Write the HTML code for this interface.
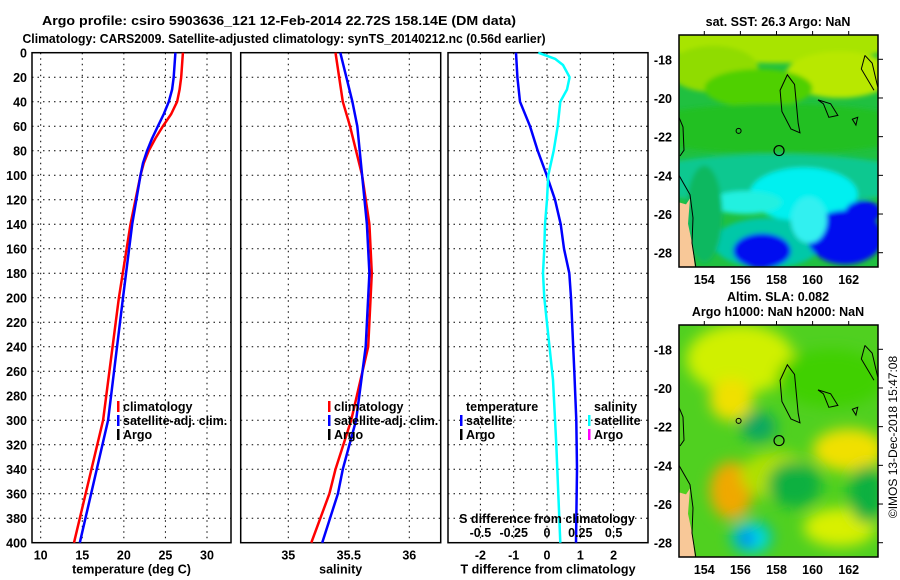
<!DOCTYPE html>
<html><head><meta charset="utf-8"><style>
html,body{margin:0;padding:0;background:#fff}
svg{display:block;font-family:"Liberation Sans",sans-serif}
.t{font-size:13px;font-weight:bold;fill:#000}
.tk{font-size:12.5px;font-weight:bold;fill:#000}
.grid{stroke:#000;stroke-width:1;stroke-dasharray:1.5,4}
</style></head><body>
<svg id="c" width="900" height="580" viewBox="0 0 900 580">
<defs>
<filter id="bl1" x="-20%" y="-20%" width="140%" height="140%"><feGaussianBlur stdDeviation="2.5"/></filter>
<filter id="bl2" x="-30%" y="-30%" width="160%" height="160%"><feGaussianBlur stdDeviation="7"/></filter>
<clipPath id="m1c"><rect x="679" y="35" width="199" height="232"/></clipPath>
<clipPath id="m2c"><rect x="679" y="325" width="199" height="232"/></clipPath>
</defs>
<text class="t" x="279" y="25" text-anchor="middle" textLength="474" lengthAdjust="spacingAndGlyphs">Argo profile: csiro 5903636_121 12-Feb-2014 22.72S 158.14E (DM data)</text>
<text class="t" x="284" y="43" text-anchor="middle" textLength="523" lengthAdjust="spacingAndGlyphs">Climatology: CARS2009. Satellite-adjusted climatology: synTS_20140212.nc (0.56d earlier)</text>
<g id="panels"></g>
<g id="maps"></g>
</svg>
<script>
// depth levels (m)
const depths=[0,20,30,40,50,60,70,80,90,100,140,200,300,400];
const tempClim=[27.1,26.9,26.7,26.4,25.7,24.7,23.8,23.0,22.4,22.0,20.8,19.4,17.5,14.0];
const tempSat=[26.2,26.0,25.8,25.4,24.8,24.1,23.4,22.8,22.3,22.0,21.0,19.9,18.1,14.7];
const salDepths=[0,40,60,100,140,180,240,300,340,360,400];
const salClim=[35.39,35.45,35.51,35.61,35.67,35.69,35.66,35.52,35.39,35.34,35.19];
const salSat=[35.43,35.53,35.57,35.61,35.65,35.67,35.64,35.56,35.45,35.41,35.28];
const tdDepths=[0,20,40,60,80,100,120,140,160,180,200,260,300,340,400];
const tDiff=[-0.93,-0.89,-0.81,-0.51,-0.28,-0.01,0.24,0.41,0.51,0.67,0.72,0.82,0.88,0.9,0.87];
const sdDepths=[0,5,10,20,30,40,60,80,100,120,140,160,180,200,267,320,400];
const sDiff=[-0.065,0.06,0.12,0.17,0.15,0.10,0.08,0.05,0.01,0,-0.015,-0.02,-0.03,-0.02,0.045,0.07,0.1];
const depthTicks=[0,20,40,60,80,100,120,140,160,180,200,220,240,260,280,300,320,340,360,380,400];
const tTicks=[10,15,20,25,30];
const sTicks=[35,35.5,36];
const tdTicks=[-2,-1,0,1,2];
const sdTicks=[-0.5,-0.25,0,0.25,0.5];
const latTicks=[-18,-20,-22,-24,-26,-28];
const lonTicks=[154,156,158,160,162];

const NS='http://www.w3.org/2000/svg';
function mk(tag,attrs,parent,text){const e=document.createElementNS(NS,tag);for(const k in attrs)e.setAttribute(k,attrs[k]);if(text!==undefined)e.textContent=text;parent.appendChild(e);return e;}
const P=document.getElementById('panels');
const top0=52.7,bot=542.7;
const yD=d=>top0+d/400*(bot-top0);
function lin(d0,d1,p0,p1){return v=>p0+(v-d0)/(d1-d0)*(p1-p0);}

function panel(name,x0,x1,xs,ticks,label,fmt){
  const g=mk('g',{},P);
  
  
  depthTicks.forEach(d=>{ if(d>0&&d<400){const l=mk('line',{x1:x0,x2:x1,y1:yD(d),y2:yD(d),class:'grid'},g);
    }});
  ticks.forEach(v=>{const l=mk('line',{x1:xs(v),x2:xs(v),y1:top0,y2:bot,class:'grid'},g);
    
    const t=mk('text',{x:xs(v),y:bot+17,class:'tk','text-anchor':'middle'},g,fmt(v));
    });
  const r=mk('rect',{x:x0,y:top0,width:x1-x0,height:bot-top0,fill:'none',stroke:'#000','stroke-width':1.5},g);
  
  if(label){const t=mk('text',{x:(x0+x1)/2,y:bot+31,class:'tk','text-anchor':'middle'},g,label);
    }
  return g;
}
function line(g,xs,dep,vals,col,name,w){
  const pts=dep.map((d,i)=>xs(vals[i]).toFixed(1)+','+yD(d).toFixed(1)).join(' ');
  const p=mk('polyline',{points:pts,fill:'none',stroke:col,'stroke-width':w||2.5,'stroke-linejoin':'round'},g);
  
}
function legend(g,x,y,items,titleText){
  let yy=y;
  if(titleText){const t=mk('text',{x:x+6,y:yy,class:'tk'},g,titleText);yy+=14;}
  items.forEach(([c,txt])=>{
    const l=mk('rect',{x:x,y:yy-10,width:2.5,height:11,fill:c},g);
    
    const t=mk('text',{x:x+6,y:yy,class:'tk'},g,txt);
    
    yy+=14;});
}
// panel 1
const xT=lin(10,30,40.7,207);
const g1=panel('temperature-panel',32,231,xT,tTicks,'temperature (deg C)',v=>v);
depthTicks.forEach(d=>{const t=mk('text',{x:27,y:yD(d)+5,class:'tk','text-anchor':'end'},g1,d);
  });
line(g1,xT,depths,tempClim,'#f00','temp-climatology-line');
line(g1,xT,depths,tempSat,'#00f','temp-satellite-line');
legend(g1,117,411,[['#f00','climatology'],['#00f','satellite-adj. clim.'],['#000','Argo']]);
// panel 2
const xS=lin(35,36,288.3,409.3);
const g2=panel('salinity-panel',240.7,440.7,xS,sTicks,'salinity',v=>v);
line(g2,xS,salDepths,salClim,'#f00','sal-climatology-line');
line(g2,xS,salDepths,salSat,'#00f','sal-satellite-line');
legend(g2,328,411,[['#f00','climatology'],['#00f','satellite-adj. clim.'],['#000','Argo']]);
// panel 3
const xTD=lin(0,1,547,580.3);
const xSD=lin(0,0.25,547,580.3);
const g3=panel('difference-panel',448,648,xTD,tdTicks,'T difference from climatology',v=>v);
line(g3,xTD,tdDepths,tDiff,'#00f','t-diff-line');
line(g3,xSD,sdDepths,sDiff,'#0ff','s-diff-line');
legend(g3,460,411,[['#00f','satellite'],['#000','Argo']],'temperature');
legend(g3,588,411,[['#0ff','satellite'],['#f0f','Argo']],'salinity');
sdTicks.forEach(v=>{const t=mk('text',{x:xSD(v),y:537,class:'tk','text-anchor':'middle'},g3,v);
  });
{const t=mk('text',{x:547,y:523,class:'tk','text-anchor':'middle'},g3,'S difference from climatology');
 }

// maps
const M=document.getElementById('maps');
const lonX=lin(154,162,704.3,848.7);
function mapFrame(name,y0,y1,title1,title2,clip,blobs,base,blur){
  const g=mk('g',{},M);
  
  const latY=lin(-18,-28,y0+24.3,y0+217.7);
  const c=mk('g',{'clip-path':'url(#'+clip+')'},g);
  mk('rect',{x:679,y:y0,width:199,height:y1-y0,fill:base},c);
  const bg=mk('g',{filter:'url(#'+blur+')'},c);
  blobs.forEach(b=>mk('ellipse',{cx:lonX(b[0]),cy:latY(b[1]),rx:b[2]*18,ry:b[3]*19.3,fill:b[4]},bg));
  mk('path',{d:`M679 ${latY(-25.4)} L686 ${latY(-25.5)} L690 ${latY(-25.2)} L688 ${latY(-26.5)} L692 ${latY(-27.5)} L695 ${latY(-28.8)} L679 ${latY(-28.8)} Z`,fill:'#f8c898'},c);
  const cs=`M679 ${latY(-21.0)} L683 ${latY(-21.5)} L684 ${latY(-22.7)} L680 ${latY(-23.0)} M679 ${latY(-24.0)} L690 ${latY(-25)} L693 ${latY(-26.2)} L692 ${latY(-27.5)} L696 ${latY(-28.8)}
  M${lonX(158.2)} ${latY(-19.6)} L${lonX(158.6)} ${latY(-18.8)} L${lonX(159)} ${latY(-19.3)} L${lonX(159.2)} ${latY(-21.3)} L${lonX(159.3)} ${latY(-21.8)} L${lonX(158.8)} ${latY(-21.6)} L${lonX(158.3)} ${latY(-20.7)} Z
  M${lonX(160.3)} ${latY(-20.1)} L${lonX(161)} ${latY(-20.3)} L${lonX(161.4)} ${latY(-20.9)} L${lonX(160.9)} ${latY(-21.0)} L${lonX(160.6)} ${latY(-20.3)} Z
  M${lonX(162.9)} ${latY(-17.8)} L${lonX(163.3)} ${latY(-18.2)} L${lonX(163.6)} ${latY(-19.4)} L${lonX(163.8)} ${latY(-19.8)} M${lonX(162.9)} ${latY(-17.8)} L${lonX(162.7)} ${latY(-18.5)} L${lonX(163.4)} ${latY(-19.6)}
  M${lonX(162.2)} ${latY(-21.1)} L${lonX(162.5)} ${latY(-21.0)} L${lonX(162.4)} ${latY(-21.4)} Z`;
  mk('path',{d:cs,fill:'none',stroke:'#000','stroke-width':1},c);
  mk('circle',{cx:lonX(155.9),cy:latY(-21.7),r:2.5,fill:'none',stroke:'#000','stroke-width':1},c);
  const ac=mk('circle',{cx:lonX(158.14),cy:latY(-22.72),r:5,fill:'none',stroke:'#000','stroke-width':1.2},c);
  
  const fr=mk('rect',{x:679,y:y0,width:199,height:y1-y0,fill:'none',stroke:'#000','stroke-width':1.5},g);
  
  latTicks.forEach(v=>{mk('line',{x1:878,x2:883,y1:latY(v),y2:latY(v),stroke:'#000'},g);
    const t=mk('text',{x:672,y:latY(v)+5,class:'tk','text-anchor':'end'},g,v);
    });
  lonTicks.forEach(v=>{mk('line',{x1:lonX(v),x2:lonX(v),y1:y0,y2:y0-4,stroke:'#000'},g);
    const t=mk('text',{x:lonX(v),y:y1+17,class:'tk','text-anchor':'middle'},g,v);
    });
  const t1=mk('text',{x:778,y:title2?y0-24:y0-9,class:'tk','text-anchor':'middle'},g,title1);
  
  if(title2){const t2=mk('text',{x:778,y:y0-9,class:'tk','text-anchor':'middle'},g,title2);
    }
}
const sstBlobs=[[158,-16.9,7,1.3,'#a8e400'],[161.5,-18.8,3,1.2,'#b8e800'],[154.5,-18.5,2.5,1.2,'#90dc00'],[157,-19.5,3,1.0,'#50d000'],
 [158,-21.6,8,1.3,'#20c020'],[158,-24.2,8,1.3,'#10c890'],[159.5,-25.0,3,1.4,'#00f0f0'],[156.3,-25.4,2,0.6,'#20f0e0'],[157.5,-27.5,3,1.3,'#00c8a8'],
 [157.2,-27.9,1.6,0.9,'#0010f0'],[161.8,-27.2,2.1,1.4,'#0010f0'],[162.8,-25.9,1,0.6,'#0010f0'],[159.8,-26.3,1,1.2,'#30f0f0'],[154,-26,1,2.5,'#10b860']];
mapFrame('sst-map',35,267,'sat. SST: 26.3 Argo: NaN','', 'm1c',sstBlobs,'#20c040','bl1');
const slaBlobs=[[156,-18.5,3,1.8,'#d0f000'],[161,-19.5,3,1.5,'#40d000'],[155.5,-20.6,1.2,1.1,'#f0e000'],[157,-22,1,0.8,'#10a860'],
 [155.5,-25.3,1.2,1.5,'#f0a800'],[158,-24.5,2,1.2,'#b0e000'],[162,-23.2,2,1.1,'#f0e000'],[161.5,-27.2,2,1,'#d8f000'],
 [159,-25,1.5,1.2,'#10b040'],[156.6,-27.7,1.2,0.9,'#10c0a0'],[156.6,-27.8,0.8,0.6,'#00f0f0'],[156.4,-27.8,0.45,0.35,'#0000f0'],[163,-25.5,1,1.5,'#10b040']];
mapFrame('sla-map',325,557,'Altim. SLA: 0.082','Argo h1000: NaN h2000: NaN','m2c',slaBlobs,'#50d020','bl2');
</script>
<div style="position:absolute;left:883px;top:320px;width:20px;height:240px">
<div style="position:absolute;left:-110px;top:110px;width:240px;transform:rotate(-90deg);text-align:center;font:12px 'Liberation Sans',sans-serif;color:#000;white-space:nowrap">©IMOS 13-Dec-2018 15:47:08</div>
</div>
</body></html>
